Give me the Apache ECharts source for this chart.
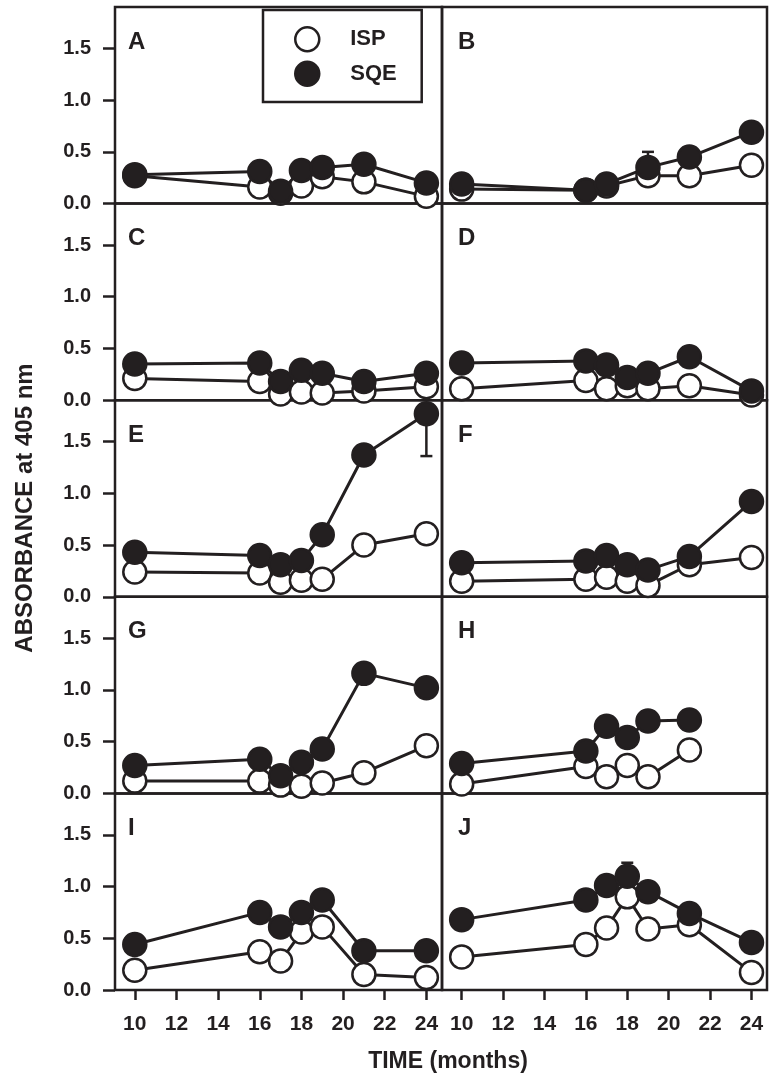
<!DOCTYPE html>
<html><head><meta charset="utf-8">
<script src="https://cdn.jsdelivr.net/npm/echarts@6.0.0/dist/echarts.min.js"></script>
<style>html,body{margin:0;padding:0;background:#fff}#c{width:769px;height:1076px}</style>
</head><body><div id="c"></div>
<script>
const months = [10, 16, 17, 18, 19, 21, 24];
const xTicks = [10, 12, 14, 16, 18, 20, 22, 24];
const yTicks = [0, 0.5, 1.0, 1.5];
const panels = ['A','B','C','D','E','F','G','H','I','J'];

const ispA = [0.27, 0.16, 0.10, 0.17, 0.26, 0.21, 0.07];
const sqeA = [0.28, 0.31, 0.12, 0.32, 0.35, 0.38, 0.20];
const ispB = [0.14, 0.13, 0.17, null, 0.27, 0.27, 0.37];
const sqeB = [0.19, 0.13, 0.19, null, 0.35, 0.45, 0.69];
const ispC = [0.21, 0.18, 0.06, 0.08, 0.07, 0.09, 0.13];
const sqeC = [0.35, 0.36, 0.18, 0.29, 0.26, 0.18, 0.26];
const ispD = [0.11, 0.19, 0.11, 0.14, 0.11, 0.14, 0.05];
const sqeD = [0.36, 0.38, 0.34, 0.22, 0.26, 0.42, 0.09];
const ispE = [0.24, 0.23, 0.14, 0.16, 0.17, 0.50, 0.61];
const sqeE = [0.43, 0.40, 0.31, 0.35, 0.60, 1.37, 1.77];
const ispF = [0.15, 0.17, 0.19, 0.15, 0.11, 0.31, 0.38];
const sqeF = [0.33, 0.345, 0.40, 0.31, 0.26, 0.39, 0.92];
const ispG = [0.12, 0.12, 0.08, 0.07, 0.10, 0.20, 0.46];
const sqeG = [0.27, 0.33, 0.17, 0.30, 0.43, 1.16, 1.02];
const ispH = [0.09, 0.26, 0.16, 0.27, 0.16, 0.42, null];
const sqeH = [0.29, 0.41, 0.65, 0.54, 0.70, 0.71, null];
const ispI = [0.19, 0.37, 0.28, 0.56, 0.61, 0.15, 0.12];
const sqeI = [0.44, 0.75, 0.61, 0.75, 0.87, 0.38, 0.38];
const ispJ = [0.32, 0.44, 0.60, 0.90, 0.59, 0.63, 0.17];
const sqeJ = [0.68, 0.87, 1.01, 1.10, 0.95, 0.74, 0.46];

// error bars: [month, mean, low, high]
const errB = [[19, 0.35, 0.35, 0.50]];
const errE = [[24, 1.77, 1.36, 1.77]];
const errG = [[24, 0.46, 0.39, 0.53]];
const errJ = [[18, 1.10, 1.10, 1.23]];

const ispAll = [ispA, ispB, ispC, ispD, ispE, ispF, ispG, ispH, ispI, ispJ];
const sqeAll = [sqeA, sqeB, sqeC, sqeD, sqeE, sqeF, sqeG, sqeH, sqeI, sqeJ];
const errAll = [[], errB, [], [], errE, [], errG, [], [], errJ];

const K = '#231f20';
const FF = '"Liberation Sans", Arial, Helvetica, sans-serif';
const toPts = arr => months.map((m, k) => [m, arr[k]]).filter(p => p[1] !== null);

const grids = [], xAxes = [], yAxes = [], series = [], titles = [];
panels.forEach((p, i) => {
  const col = i % 2, row = Math.floor(i / 2);
  const left = col ? 442 : 115, width = col ? 325 : 327;
  const top = 7 + row * 196.6, height = 196.6;
  grids.push({left, top, width, height, show: true, borderColor: K, borderWidth: 2.5, backgroundColor: 'transparent'});
  xAxes.push({
    type: 'value', gridIndex: i, min: 9.05, max: 24.75,
    axisLine: {show: false}, splitLine: {show: false},
    axisTick: {show: row === 4, customValues: xTicks, length: 10, lineStyle: {color: K, width: 2.5}},
    axisLabel: {show: row === 4, customValues: xTicks, margin: 24, fontSize: 21, fontWeight: 'bold', color: K, fontFamily: FF}
  });
  yAxes.push({
    type: 'value', gridIndex: i, min: 0, max: 1.9,
    axisLine: {show: false}, splitLine: {show: false},
    axisTick: {show: col === 0, customValues: yTicks, length: 12, lineStyle: {color: K, width: 2.5}},
    axisLabel: {show: col === 0, customValues: yTicks, margin: 24, fontSize: 20, fontWeight: 'bold', color: K, fontFamily: FF,
      formatter: v => v.toFixed(1)}
  });
  titles.push({text: p, left: left + (col ? 16 : 13), top: top + 23, padding: 0,
    textStyle: {fontSize: 24, fontWeight: 'bold', color: K, fontFamily: FF}});
  if (errAll[i].length) {
    series.push({
      type: 'custom', xAxisIndex: i, yAxisIndex: i, z: 1, silent: true, clip: false,
      data: errAll[i], encode: {x: 0, y: 1},
      renderItem: (params, api) => {
        const x = api.value(0), m = api.value(1), lo = api.value(2), hi = api.value(3);
        const a = api.coord([x, lo]), b = api.coord([x, hi]);
        const st = {stroke: K, lineWidth: 2.5};
        const ch = [{type: 'line', shape: {x1: a[0], y1: a[1], x2: b[0], y2: b[1]}, style: st}];
        if (lo < m) ch.push({type: 'line', shape: {x1: a[0] - 6, y1: a[1], x2: a[0] + 6, y2: a[1]}, style: st});
        if (hi > m) ch.push({type: 'line', shape: {x1: b[0] - 6, y1: b[1], x2: b[0] + 6, y2: b[1]}, style: st});
        return {type: 'group', children: ch};
      }
    });
  }
  [['ISP', ispAll[i]], ['SQE', sqeAll[i]]].forEach(([nm, arr]) => {
    series.push({
      name: nm + ' line', type: 'line', xAxisIndex: i, yAxisIndex: i, data: toPts(arr),
      showSymbol: false, symbol: 'none', z: 2, clip: false, silent: true,
      lineStyle: {color: K, width: 3}
    });
  });
  series.push({
    name: 'ISP', type: 'scatter', xAxisIndex: i, yAxisIndex: i, data: toPts(ispAll[i]),
    symbol: 'circle', symbolSize: 23, z: 3, clip: false, silent: true,
    itemStyle: {color: '#fff', borderColor: K, borderWidth: 2.5, opacity: 1}
  });
  series.push({
    name: 'SQE', type: 'scatter', xAxisIndex: i, yAxisIndex: i, data: toPts(sqeAll[i]),
    symbol: 'circle', symbolSize: 23, z: 4, clip: false, silent: true,
    itemStyle: {color: K, borderColor: K, borderWidth: 2.5, opacity: 1}
  });
});

const chart = echarts.init(document.getElementById('c'), null, {renderer: 'canvas'});
chart.setOption({
  animation: false,
  backgroundColor: '#fff',
  title: titles,
  grid: grids, xAxis: xAxes, yAxis: yAxes, series,
  legend: {
    left: 263, top: 10, orient: 'vertical', selectedMode: false,
    padding: [16, 25, 15, 31], itemGap: 8, itemWidth: 24, itemHeight: 24,
    borderColor: K, borderWidth: 2.5, backgroundColor: '#fff',
    icon: 'circle',
    textStyle: {fontSize: 22, fontWeight: 'bold', color: K, fontFamily: FF, padding: [0, 0, 0, 26]},
    data: [
      {name: 'ISP', itemStyle: {color: '#fff', borderColor: K, borderWidth: 2.5}},
      {name: 'SQE', itemStyle: {color: K, borderColor: K, borderWidth: 2.5}}
    ]
  },
  graphic: [
    {type: 'text', x: 25, y: 508, rotation: Math.PI / 2,
      style: {text: 'ABSORBANCE at 405 nm', fontSize: 24, fontWeight: 'bold', fill: K, fontFamily: FF,
        align: 'center', verticalAlign: 'middle'}},
    {type: 'text', x: 448, y: 1062,
      style: {text: 'TIME (months)', fontSize: 23, fontWeight: 'bold', fill: K, fontFamily: FF,
        align: 'center', verticalAlign: 'middle'}}
  ]
});
</script>
</body></html>
